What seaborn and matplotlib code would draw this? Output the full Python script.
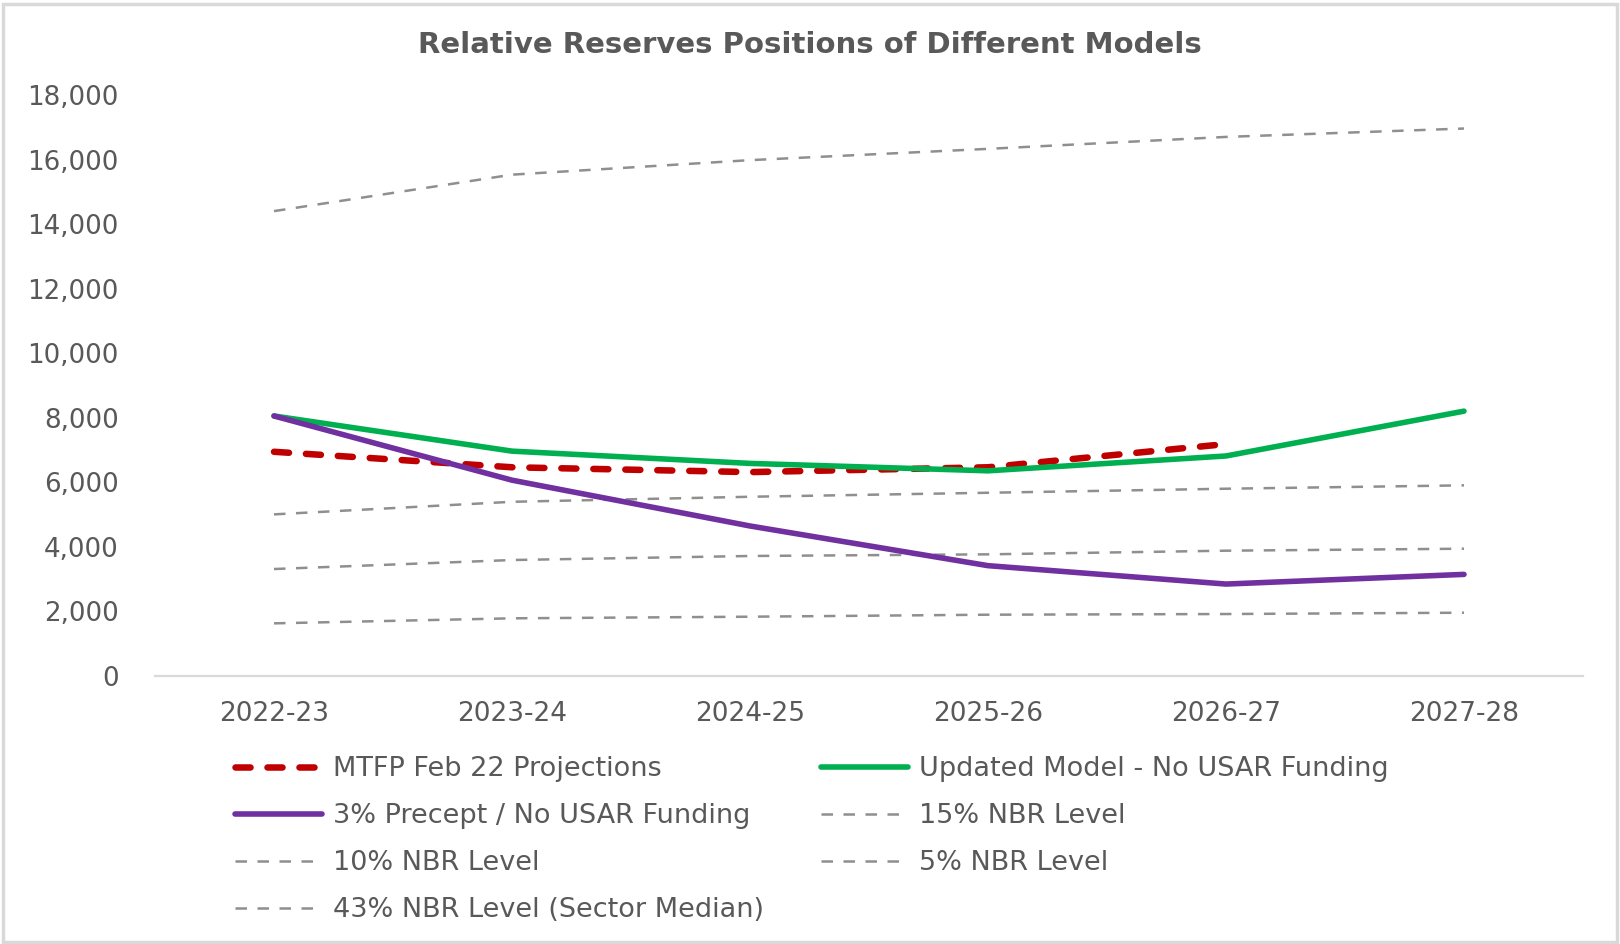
import numpy as np
import pandas as pd
import matplotlib
matplotlib.use("Agg")
import matplotlib.pyplot as plt
import seaborn as sns
from matplotlib.lines import Line2D
from matplotlib.patches import Rectangle

years = ["2022-23", "2023-24", "2024-25", "2025-26", "2026-27", "2027-28"]
mtfp = [6950, 6470, 6320, 6470, 7190, np.nan]
updated = [8060, 6970, 6590, 6360, 6820, 8210]
precept = [8060, 6070, 4650, 3420, 2850, 3150]
nbr15 = [5010, 5400, 5556, 5680, 5805, 5910]
nbr10 = [3316, 3595, 3720, 3771, 3884, 3946]
nbr5 = [1632, 1788, 1838, 1900, 1921, 1962]
nbr43 = [14410, 15540, 15990, 16340, 16710, 16970]
yticks = [0, 2000, 4000, 6000, 8000, 10000, 12000, 14000, 16000, 18000]
title = "Relative Reserves Positions of Different Models"

sns.set_theme(style="white")
plt.rcParams['font.family'] = ['DejaVu Sans']

W, H = 1620, 944
fig = plt.figure(figsize=(W / 100, H / 100), dpi=100)
ax = fig.add_axes([155 / W, 1 - 676 / H, (1583 - 155) / W, (676 - 95.3) / H])

grey = "#8f8f8f"
text_c = "#595959"
lw_grey = 1.8
dash_grey = (0, (4.6, 4.2))

series = [
    ("MTFP Feb 22 Projections", mtfp, dict(color="#C00000", lw=4.7, ls=(0, (2.3, 2.6)), dash_capstyle="round")),
    ("Updated Model - No USAR Funding", updated, dict(color="#00B050", lw=4.0, ls="-")),
    ("3% Precept / No USAR Funding", precept, dict(color="#7030A0", lw=4.0, ls="-")),
    ("15% NBR Level", nbr15, dict(color=grey, lw=lw_grey, ls=dash_grey)),
    ("10% NBR Level", nbr10, dict(color=grey, lw=lw_grey, ls=dash_grey)),
    ("5% NBR Level", nbr5, dict(color=grey, lw=lw_grey, ls=dash_grey)),
    ("43% NBR Level (Sector Median)", nbr43, dict(color=grey, lw=lw_grey, ls=dash_grey)),
]

# draw grey first, then the main lines on top
order = [3, 4, 5, 6, 0, 1, 2]
for i in order:
    name, vals, st = series[i]
    df = pd.DataFrame({"Year": years, "Value": vals}).dropna()
    kw = dict(color=st["color"], linewidth=st["lw"], sort=False, ax=ax)
    sns.lineplot(data=df, x="Year", y="Value", **kw)
    ln = ax.lines[-1]
    ln.set_linestyle(st["ls"])
    ln.set_solid_capstyle("round")
    ln.set_solid_joinstyle("round")
    if "dash_capstyle" in st:
        ln.set_dash_capstyle("round")

ax.set_xlim(-0.5, 5.5)
ax.set_ylim(0, 18000)
ax.set_yticks(yticks)
ax.set_yticklabels([f"{v:,}" for v in yticks])
ax.set_xlabel("")
ax.set_ylabel("")
ax.grid(False)
for s in ["top", "right", "left"]:
    ax.spines[s].set_visible(False)
ax.spines["bottom"].set_color("#d9d9d9")
ax.spines["bottom"].set_linewidth(1.6)
ax.tick_params(axis="y", length=0, pad=26, labelsize=18.8, labelcolor=text_c)
ax.tick_params(axis="x", length=0, pad=18, labelsize=19, labelcolor=text_c)

fig.text(0.5, 1 - 45 / H, title, ha="center", va="center", fontsize=21,
         fontweight="bold", color=text_c)

# legend (row-wise order as in reference -> column-major handles)
def handle(i):
    name, vals, st = series[i]
    h = Line2D([0], [0], color=st["color"], lw=st["lw"], ls=st["ls"])
    if "dash_capstyle" in st:
        h.set_dash_capstyle("round")
    h.set_solid_capstyle("round")
    return h, name

leg_order = [0, 2, 4, 6, 1, 3, 5]
hs, ls_ = zip(*[handle(i) for i in leg_order])
leg = fig.legend(hs, ls_, loc="upper left", bbox_to_anchor=(235 / W, 1 - 756 / H),
                 ncol=2, frameon=False, fontsize=19.5, handlelength=3.2,
                 handletextpad=0.42, columnspacing=2.12, labelspacing=0.78,
                 borderpad=0, borderaxespad=0)
for t in leg.get_texts():
    t.set_color(text_c)

fig.patches.append(Rectangle((3 / W, 2 / H), (W - 6) / W, (H - 6) / H, transform=fig.transFigure,
                             fill=False, edgecolor="#d9d9d9", linewidth=2.5))

fig.savefig("out.png", dpi=100, facecolor="white")
